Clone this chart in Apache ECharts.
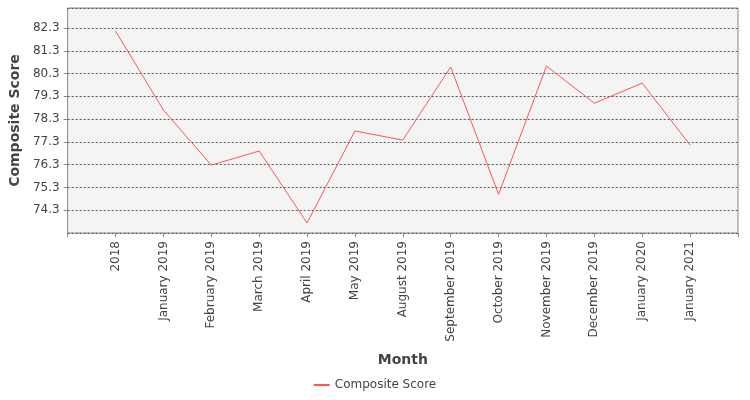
<!DOCTYPE html>
<html><head><meta charset="utf-8">
<script src="https://cdn.jsdelivr.net/npm/echarts@6/dist/echarts.min.js"></script>
<style>html,body{margin:0;padding:0;background:#fff}#c{width:750px;height:400px}</style>
</head><body><div id="c"></div>
<script>
const categories = ["2018","January 2019","February 2019","March 2019","April 2019","May 2019","August 2019","September 2019","October 2019","November 2019","December 2019","January 2020","January 2021"];
const scores = [82.17,78.7,76.28,76.9,73.74,77.78,77.38,80.59,75.0,80.63,79.0,79.88,77.16];
const seriesName = "Composite Score";

const chart = echarts.init(document.getElementById('c'));
chart.setOption({
  animation:false,
  backgroundColor:'#fff',
  textStyle:{fontFamily:'DejaVu Sans'},
  grid:{left:60,right:12,top:8,bottom:167,show:true,backgroundColor:'#f4f4f4',borderColor:'#888',borderWidth:1},
  legend:{bottom:4,left:'center',itemWidth:16,itemHeight:2,icon:'rect',
    textStyle:{fontSize:12,color:'#444'},data:[seriesName]},
  xAxis:{type:'value',min:0,max:14,interval:1,
    name:'Month',nameLocation:'middle',nameGap:120,
    nameTextStyle:{fontSize:14,fontWeight:'bold',color:'#444'},
    axisLine:{show:false},axisTick:{show:true,length:4,lineStyle:{color:'#888'}},
    splitLine:{show:false},
    axisLabel:{rotate:90,fontSize:12,color:'#444',
      formatter:v=>(v>=1&&v<=categories.length)?categories[v-1]:''}},
  yAxis:{type:'value',min:73.3,max:83.18,interval:1,
    name:'Composite Score',nameLocation:'middle',nameGap:38,
    nameTextStyle:{fontSize:14,fontWeight:'bold',color:'#444'},
    axisLine:{show:false},axisTick:{show:true,length:4,lineStyle:{color:'#888'}},
    axisLabel:{fontSize:12,color:'#444',showMinLabel:false,showMaxLabel:false},
    splitLine:{show:true,lineStyle:{color:'#555',type:[2,2],width:1}}},
  series:[{name:seriesName,type:'line',symbol:'none',
    lineStyle:{color:'#ff5555',width:1},itemStyle:{color:'#ff5555'},
    data:scores.map((v,i)=>[i+1,v])}]
});
</script></body></html>
